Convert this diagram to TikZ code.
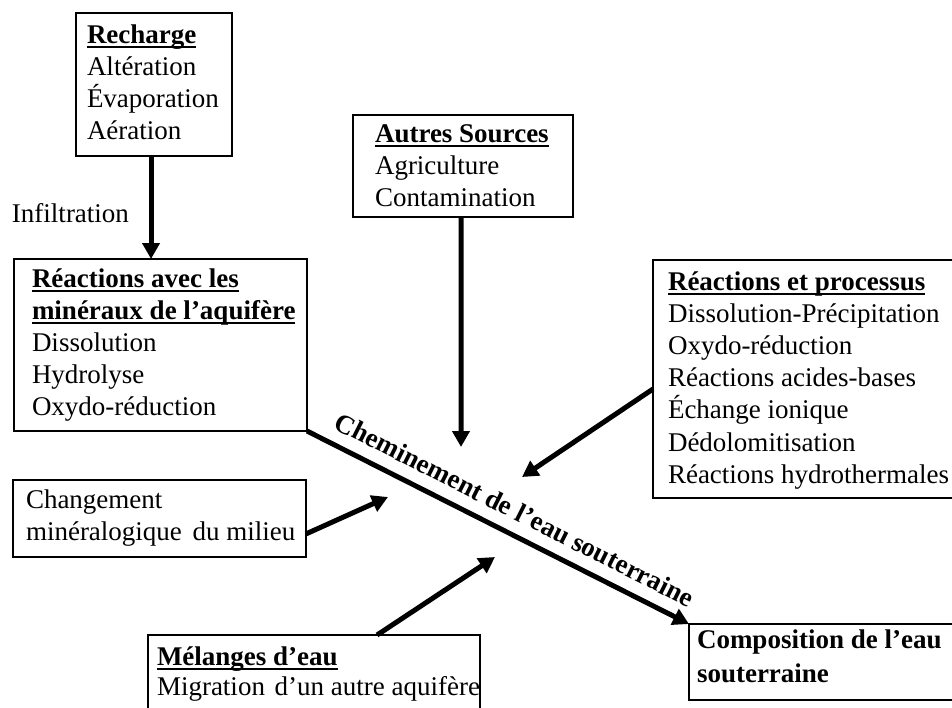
\documentclass[tikz,border=0pt]{standalone}
\usepackage{fontspec}
\setmainfont{Liberation Serif}
\usetikzlibrary{arrows.meta,calc}
\newcommand\myul[1]{\setbox0\hbox{#1}\rlap{\rule[-4.5pt]{\wd0}{1.5pt}}\box0}
\newcommand\topstrut{\rule{0pt}{22pt}}
\begin{document}
\begin{tikzpicture}[x=1pt,y=-1pt,
  box/.style={draw, line width=2pt, inner sep=0pt, outer sep=0pt, anchor=north west, rectangle},
  txt/.style={anchor=north west, inner sep=0pt, outer sep=0pt, align=left, font=\fontsize{27}{32.2}\selectfont},
  arr/.style={line width=5pt, -{Triangle[length=16pt,width=17pt]}}]
\useasboundingbox (0,0) rectangle (952,707);
\clip (0,0) rectangle (952,707);
% boxes
\node[box, minimum width=156pt, minimum height=143pt] (rech) at (76,13) {};
\node[box, minimum width=293pt, minimum height=172pt] (rea) at (14,259) {};
\node[box, minimum width=220pt, minimum height=102pt] (as) at (353,115) {};
\node[box, minimum width=320pt, minimum height=238pt] (rp) at (653,260) {};
\node[box, minimum width=293pt, minimum height=77pt] (ch) at (13,480) {};
\node[box, minimum width=290pt, minimum height=76pt] (comp) at (689,624) {};
\node[box, minimum width=332pt, minimum height=100pt] (mel) at (148,635) {};
% texts
\node[txt] (rechT) at (87,21) {\topstrut\myul{\textbf{Recharge}}\\Altération\\Évaporation\\Aération};
\node[txt, anchor=base west] (infl) at (12,222) {Infiltration};
\node[txt] (reaT) at (32,265) {\topstrut\myul{\textbf{Réactions avec les}}\\\myul{\textbf{minéraux de l’aquifère}}\\Dissolution\\Hydrolyse\\Oxydo-réduction};
\node[txt] (asT) at (375,120) {\topstrut\myul{\textbf{Autres Sources}}\\Agriculture\\Contamination};
\node[txt] (rpT) at (668,268) {\topstrut\myul{\textbf{Réactions et processus}}\\Dissolution-Précipitation\\Oxydo-réduction\\Réactions acides-bases\\Échange ionique\\Dédolomitisation\\Réactions hydrothermales};
\node[txt] (chT) at (26,486) {\topstrut Changement\\minéralogique\hspace{4pt} du milieu};
\node[txt, font=\fontsize{27}{34}\selectfont\bfseries] (compT) at (697,626) {\topstrut Composition de l’eau\\souterraine};
\node[txt, font=\fontsize{27}{30.5}\selectfont] (melT) at (157,643) {\topstrut\myul{\textbf{Mélanges d’eau}}\\Migration\hspace{3pt} d’un autre aquifère};
% connectors
\coordinate (r1) at ($(rech.south west)!0.481!(rech.south east)$);
\draw[arr] (r1) -- (r1 |- rea.north);
\coordinate (t2) at (461,447);
\draw[arr] ($(as.south west)!0.491!(as.south east)$) -- (t2);
\coordinate (t3) at (522,477);
\draw[arr] ($(rp.north west)!0.542!(rp.south west)$) -- (t3);
\coordinate (t4) at (388,497);
\draw[arr] ($(ch.north east)!0.7!(ch.south east)$) -- (t4);
\coordinate (t5) at (495,557);
\draw[arr] ($(mel.north west)!0.69!(mel.north east)$) -- (t5);
\draw[arr] (rea.south east) -- node[pos=0.516, sloped, above=11.5pt, inner sep=0pt, font=\fontsize{27}{32}\selectfont\bfseries] (chem) {Cheminement de l’eau souterraine} (comp.north west);
\end{tikzpicture}
\end{document}
